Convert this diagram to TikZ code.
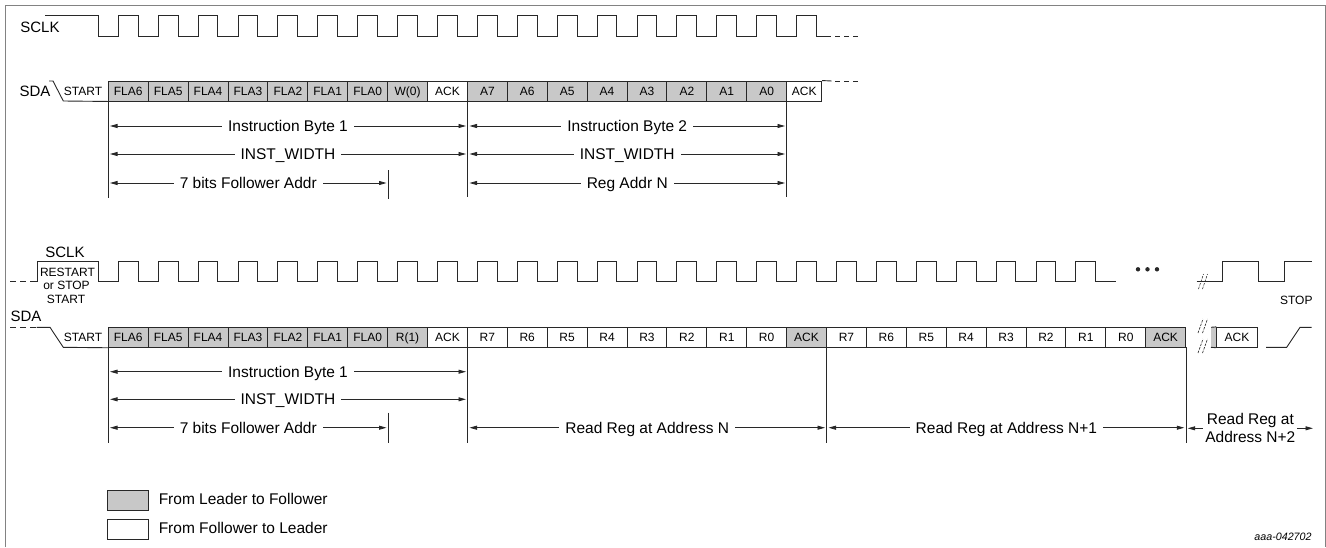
\documentclass[tikz,border=0pt]{standalone}
\usepackage{fontspec}
\setmainfont{Liberation Sans}
\usetikzlibrary{arrows.meta}
\definecolor{cellgray}{RGB}{200,200,200}
\definecolor{framegray}{RGB}{130,130,130}
\definecolor{ink}{RGB}{40,40,40}
\begin{document}
\begin{tikzpicture}[x=1pt,y=-1pt,line width=0.9pt,draw=ink,
  cellbox/.style={draw=ink,minimum width=39.9pt,minimum height=20pt,inner sep=0pt,
    font=\fontsize{12}{14}\selectfont,text height=8.6pt,text depth=0pt},
  sig/.style={font=\fontsize{15}{18}\selectfont,inner sep=0pt,text height=10.7pt,text depth=0pt},
  small/.style={font=\fontsize{12}{14}\selectfont,inner sep=0pt,text height=8.6pt,text depth=0pt},
  lab/.style={font=\fontsize{15.5}{18}\selectfont,fill=white,inner xsep=6pt,inner ysep=1pt,
    text height=11.1pt,text depth=0pt},
  dimarrow/.style={{Triangle[length=7.5pt,width=4pt]}-{Triangle[length=7.5pt,width=4pt]},line width=0.8pt,draw=ink,fill=ink},
  guide/.style={line width=0.8pt,draw=ink},
  dashy/.style={dash pattern=on 6pt off 4pt},
  brk/.style={line width=0.6pt,dash pattern=on 2.5pt off 1.2pt}]
\useasboundingbox (0,0) rectangle (1326,547);
% frame
\draw[framegray,line width=1pt] (5,547) -- (5,5) -- (1325,5) -- (1325,547);

% ---------------- top part ----------------
\node[sig] (sclk1) at (40,27) {SCLK};
\node[sig] (sda1) at (35,91) {SDA};
\node[small] (st1) at (83,91) {START};

\draw (45,15) -- (98.2,15) -- (98.2,36)
  foreach \k in {0,...,17}{ -- ({118.3+39.9*\k},36) -- ({118.3+39.9*\k},15)
     -- ({138.1+39.9*\k},15) -- ({138.1+39.9*\k},36)} -- (831,36);
\draw[dash pattern=on 5pt off 4pt] (835,36) -- (858,36);

\foreach \t/\f [count=\k from 0] in {FLA6/cellgray,FLA5/cellgray,FLA4/cellgray,FLA3/cellgray,
   FLA2/cellgray,FLA1/cellgray,FLA0/cellgray,W(0)/cellgray,ACK/white,A7/cellgray,A6/cellgray,
   A5/cellgray,A4/cellgray,A3/cellgray,A2/cellgray,A1/cellgray,A0/cellgray}
  \node[cellbox,fill=\f] (ta\k) at ({128.25+39.9*\k},91) {\t};
\node[cellbox,fill=white,minimum width=35pt] (ta17) at (804.2,91) {ACK};

\draw (49,81) -- (53,81) -- (63.3,101) -- (ta0.south west);
\draw (ta17.north east) -- (831.7,81);
\draw[dash pattern=on 5pt off 4pt] (835,81) -- (858,81);

% markers top
\coordinate (tm0a) at (108.3,101); \coordinate (tm0b) at (108.3,198);
\coordinate (tm1a) at (388,170);   \coordinate (tm1b) at (388,199);
\coordinate (tm2a) at (467.7,101); \coordinate (tm2b) at (467.7,197);
\coordinate (tm3a) at (786.7,101); \coordinate (tm3b) at (786.7,197);
\draw[guide] (tm0a) -- (tm0b);
\draw[guide] (tm1a) -- (tm1b);
\draw[guide] (tm2a) -- (tm2b);
\draw[guide] (tm3a) -- (tm3b);

\coordinate (ta1l) at (110,126);   \coordinate (ta1r) at (466,126);
\coordinate (ta2l) at (110,154);   \coordinate (ta2r) at (466,154);
\coordinate (ta3l) at (110,183);   \coordinate (ta3r) at (386.5,183);
\coordinate (ta4l) at (469.5,126); \coordinate (ta4r) at (785,126);
\coordinate (ta5l) at (469.5,154); \coordinate (ta5r) at (785,154);
\coordinate (ta6l) at (469.5,183); \coordinate (ta6r) at (785,183);
\draw[dimarrow] (ta1l) -- (ta1r) node[midway,lab] {Instruction Byte 1};
\draw[dimarrow] (ta2l) -- (ta2r) node[midway,lab] {INST\_WIDTH};
\draw[dimarrow] (ta3l) -- (ta3r) node[midway,lab] {7 bits Follower Addr};
\draw[dimarrow] (ta4l) -- (ta4r) node[midway,lab] {Instruction Byte 2};
\draw[dimarrow] (ta5l) -- (ta5r) node[midway,lab] {INST\_WIDTH};
\draw[dimarrow] (ta6l) -- (ta6r) node[midway,lab] {Reg Addr N};

% ---------------- bottom part ----------------
\node[sig] (sclk2) at (65,252) {SCLK};
\node[sig] (sda2) at (26,316) {SDA};
\node[small] (rs) at (67.5,271.7) {RESTART};
\node[small] (os) at (66.5,285) {or STOP};
\node[small] (ss) at (66,299.3) {START};
\node[small] (st2) at (83,337.3) {START};
\node[small] (stop) at (1296.3,300) {STOP};

\draw[dashy] (10,281.7) -- (36,281.7);
\draw (36,281.7) -- (37.7,281.7) -- (37.7,261.7) -- (98.2,261.7) -- (98.2,281.7)
  foreach \k in {0,...,24}{ -- ({118.3+39.9*\k},281.7) -- ({118.3+39.9*\k},261.7)
     -- ({138.1+39.9*\k},261.7) -- ({138.1+39.9*\k},281.7)} -- (1115.7,281.7);
\fill[ink] (1138,269.3) circle (2.2) (1147.5,269.3) circle (2.2) (1157,269.3) circle (2.2);
\draw (1196.7,281.7) -- (1222.7,281.7) -- (1222.7,261.7) -- (1258.3,261.7) -- (1258.3,281.7)
  -- (1284.3,281.7) -- (1284.3,261.7) -- (1311.7,261.7);
\draw[brk] (1198.5,289) -- (1203.5,274);
\draw[brk] (1202.5,289) -- (1207.5,274);

\foreach \t/\f [count=\k from 0] in {FLA6/cellgray,FLA5/cellgray,FLA4/cellgray,FLA3/cellgray,
   FLA2/cellgray,FLA1/cellgray,FLA0/cellgray,R(1)/cellgray,ACK/white,
   R7/white,R6/white,R5/white,R4/white,R3/white,R2/white,R1/white,R0/white,ACK/cellgray,
   R7/white,R6/white,R5/white,R4/white,R3/white,R2/white,R1/white,R0/white,ACK/cellgray}
  \node[cellbox,fill=\f] (tb\k) at ({128.25+39.9*\k},337.3) {\t};

\draw[dashy] (10,327.3) -- (36.7,327.3);
\draw (36.7,327.3) -- (50,327.3) -- (63.3,347.3) -- (tb0.south west);

\node[cellbox,fill=white,minimum width=40.6pt] (bext) at (1237,337.3) {ACK};
\fill[cellgray] (1211,327.3) rectangle (bext.south west);
\draw (1211,327.3) -- (bext.north west);
\draw (1211,347.3) -- (bext.south west);
\draw[brk] (1198,333) -- (1203,319);
\draw[brk] (1202.5,333) -- (1207.5,319);
\draw[brk] (1198,353) -- (1203,339);
\draw[brk] (1202.5,353) -- (1207.5,339);
\draw (1266,347.3) -- (1286.7,347.3) -- (1300,327.3) -- (1311.7,327.3);

% markers bottom
\coordinate (bm0a) at (108.3,347.3); \coordinate (bm0b) at (108.3,443.3);
\coordinate (bm1a) at (388,412.7);   \coordinate (bm1b) at (388,443.3);
\coordinate (bm2a) at (467.7,347.3); \coordinate (bm2b) at (467.7,443.3);
\coordinate (bm3a) at (826.7,347.3); \coordinate (bm3b) at (826.7,443.3);
\coordinate (bm4a) at (1186,347.3);  \coordinate (bm4b) at (1186,443.3);
\draw[guide] (bm0a) -- (bm0b);
\draw[guide] (bm1a) -- (bm1b);
\draw[guide] (bm2a) -- (bm2b);
\draw[guide] (bm3a) -- (bm3b);
\draw[guide] (bm4a) -- (bm4b);

\coordinate (ba1l) at (110,371.7);    \coordinate (ba1r) at (466,371.7);
\coordinate (ba2l) at (110,399.3);    \coordinate (ba2r) at (466,399.3);
\coordinate (ba3l) at (110,427.7);    \coordinate (ba3r) at (386.5,427.7);
\coordinate (ba4l) at (469.5,427.7);  \coordinate (ba4r) at (825,427.7);
\coordinate (ba5l) at (828.5,427.7);  \coordinate (ba5r) at (1184.3,427.7);
\coordinate (ba6l) at (1187.7,428.3); \coordinate (ba6r) at (1313,428.3);
\draw[dimarrow] (ba1l) -- (ba1r) node[midway,lab] {Instruction Byte 1};
\draw[dimarrow] (ba2l) -- (ba2r) node[midway,lab] {INST\_WIDTH};
\draw[dimarrow] (ba3l) -- (ba3r) node[midway,lab] {7 bits Follower Addr};
\draw[dimarrow] (ba4l) -- (ba4r) node[midway,lab] {Read Reg at Address N};
\draw[dimarrow] (ba5l) -- (ba5r) node[midway,lab] {Read Reg at Address N+1};
\draw[dimarrow] (ba6l) -- (ba6r) node[midway,font=\fontsize{15.5}{18}\selectfont,fill=white,
   inner xsep=2pt,inner ysep=0pt,align=center] {Read Reg at\\Address N+2};

% legend
\node[draw=ink,fill=cellgray,minimum width=41pt,minimum height=20pt,inner sep=0pt] (lg1) at (127.8,500) {};
\node[draw=ink,fill=white,minimum width=41pt,minimum height=20pt,inner sep=0pt] (lg2) at (127.8,529.3) {};
\node[font=\fontsize{15.5}{18}\selectfont,inner sep=0pt,text height=11.1pt,text depth=0pt,anchor=west] (lt1) at (158.3,499.3) {From Leader to Follower};
\node[font=\fontsize{15.5}{18}\selectfont,inner sep=0pt,text height=11.1pt,text depth=0pt,anchor=west] (lt2) at (158.3,528.3) {From Follower to Leader};

\node[font=\fontsize{10.7}{12}\selectfont\itshape,inner sep=0pt] (fid) at (1283,537.3) {aaa-042702};
\end{tikzpicture}
\end{document}
